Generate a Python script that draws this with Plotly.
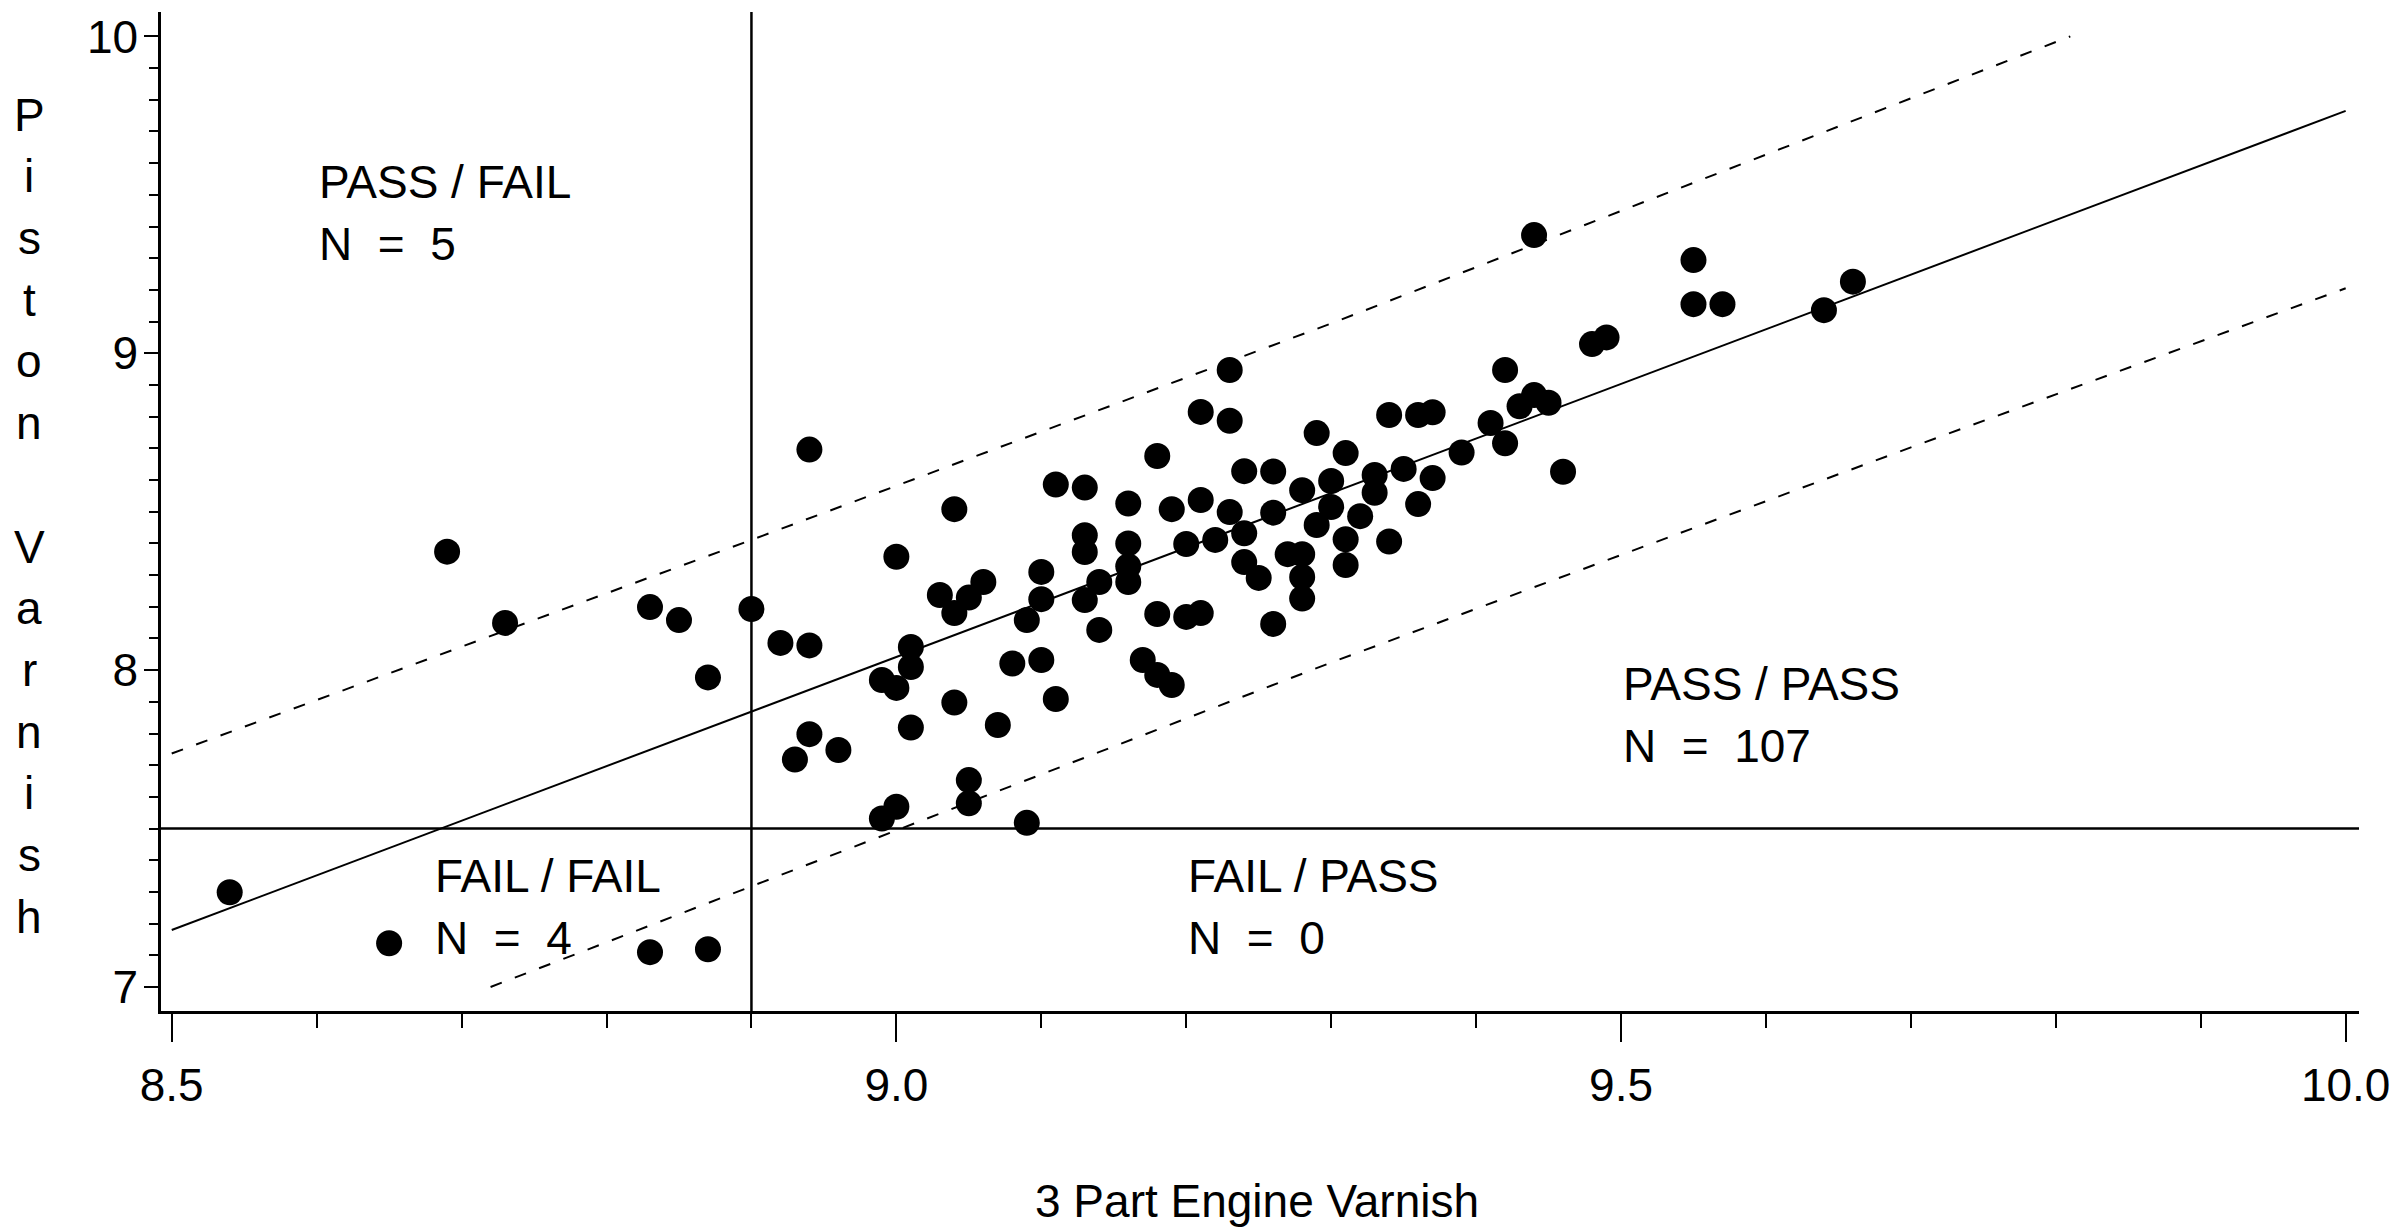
import plotly.graph_objects as go

# ---------------- data ----------------
engine_varnish = [
    8.69, 8.73, 8.83, 8.85, 8.90, 8.87, 8.92, 8.94, 8.94, 8.93, 8.96, 8.54, 8.65, 8.83, 8.87, 8.94,
    9.23, 9.21, 9.23, 9.18, 9.24, 9.11, 9.13, 9.04, 9.16, 9.19, 9.21, 9.23, 9.00, 9.13, 9.13, 9.16,
    9.16, 9.16, 9.14, 9.13, 9.10, 9.10, 9.09, 9.06, 9.05, 9.03, 9.04, 9.14, 9.18, 9.20, 9.21, 9.20,
    9.22, 9.24, 9.24, 9.25, 9.01, 9.01, 8.99, 9.00, 9.08, 9.10, 9.17, 9.18, 9.19, 9.04, 9.11, 9.01,
    9.07,
    9.48, 9.49, 9.42, 9.34, 9.36, 9.37, 9.29, 9.31, 9.26, 9.28, 9.35, 9.37, 9.33, 9.33, 9.30, 9.30,
    9.26, 9.29, 9.32, 9.36, 9.39, 9.41, 9.42, 9.43, 9.44, 9.45, 9.46, 9.34, 9.31, 9.31, 9.27, 9.28,
    9.28, 9.28, 9.26,
    9.44, 9.55, 9.55, 9.57, 9.66, 9.64,
    9.05, 9.05, 9.00, 8.99, 9.09,
]
piston_varnish = [
    8.374, 8.149, 8.199, 8.158, 8.193, 7.977, 8.086, 8.078, 7.798, 7.718, 7.748, 7.299, 7.138, 7.110, 7.119, 8.696,
    8.947, 8.815, 8.787, 8.676, 8.628, 8.586, 8.576, 8.508, 8.526, 8.508, 8.537, 8.499, 8.358, 8.426, 8.373, 8.400,
    8.328, 8.278, 8.278, 8.221, 8.310, 8.224, 8.158, 8.278, 8.229, 8.237, 8.180, 8.127, 8.177, 8.168, 8.180, 8.398,
    8.411, 8.432, 8.341, 8.291, 8.073, 8.010, 7.969, 7.944, 8.021, 8.032, 8.032, 7.985, 7.953, 7.898, 7.909, 7.819,
    7.827,
    9.029, 9.050, 8.947, 8.805, 8.805, 8.814, 8.748, 8.685, 8.627, 8.568, 8.635, 8.606, 8.616, 8.560, 8.597, 8.515,
    8.497, 8.458, 8.486, 8.524, 8.687, 8.780, 8.716, 8.833, 8.868, 8.844, 8.626, 8.406, 8.413, 8.332, 8.366, 8.366,
    8.294, 8.226, 8.146,
    9.373, 9.294, 9.155, 9.155, 9.226, 9.136,
    7.653, 7.580, 7.569, 7.532, 7.518,
]

fit_x = [8.5, 10.0]
fit_y = [7.180, 9.765]
upper_x = [8.5, 8.9, 9.3, 9.6, 9.81]
upper_y = [7.737, 8.411, 9.094, 9.626, 10.0]
lower_x = [8.72, 9.0, 9.3, 9.7, 10.0]
lower_y = [7.0, 7.495, 8.024, 8.703, 9.205]

engine_limit = 8.9
piston_limit = 7.5

quadrant_names = ["PASS / FAIL", "FAIL / FAIL", "FAIL / PASS", "PASS / PASS"]
quadrant_counts = [5, 4, 0, 107]

x_tick_labels = ["8.5", "9.0", "9.5", "10.0"]
y_tick_labels = ["7", "8", "9", "10"]

x_title = "3 Part Engine Varnish"
y_title = "Piston Varnish"

# ---------------- styling / layout ----------------
W, H = 2390, 1229
L, R, T, B = 161, 31, 12, 218
PW, PH = W - L - R, H - T - B
FONT = "Liberation Sans Narrow, Arial Narrow, Liberation Sans, Arial, sans-serif"
FS = 46
NB = "\u00a0"


def px_to_paper_x(px):
    return (px - L) / PW


def px_to_paper_y(py):
    return (H - B - py) / PH


fig = go.Figure()

# regression line and prediction band
fig.add_trace(go.Scatter(x=fit_x, y=fit_y, mode="lines",
                         line=dict(color="black", width=2), hoverinfo="skip"))
fig.add_trace(go.Scatter(x=upper_x, y=upper_y, mode="lines",
                         line=dict(color="black", width=2, dash="12px,14px"), hoverinfo="skip"))
fig.add_trace(go.Scatter(x=lower_x, y=lower_y, mode="lines",
                         line=dict(color="black", width=2, dash="12px,14px"), hoverinfo="skip"))

# data points
fig.add_trace(go.Scatter(x=engine_varnish, y=piston_varnish, mode="markers",
                         marker=dict(color="black", size=26, symbol="circle", line=dict(width=0)),
                         cliponaxis=False))

# reference lines
fig.add_shape(type="line", xref="x", yref="paper", x0=engine_limit, x1=engine_limit, y0=0, y1=1,
              line=dict(color="black", width=2.5), layer="below")
fig.add_shape(type="line", xref="paper", yref="y", x0=0, x1=1, y0=piston_limit, y1=piston_limit,
              line=dict(color="black", width=2.5), layer="below")

annotations = []
# quadrant labels: (left x in data, first-line centre y in data)
label_pos = [(8.60, 9.540), (8.68, 7.350), (9.20, 7.350), (9.50, 7.956)]
line_gap = 61.5 / 316.9
for name, n, (lx, ly) in zip(quadrant_names, quadrant_counts, label_pos):
    annotations.append(dict(x=lx, y=ly, xref="x", yref="y", xanchor="left", yanchor="middle",
                            text=name, showarrow=False,
                            font=dict(family=FONT, size=FS, color="black")))
    annotations.append(dict(x=lx, y=ly - line_gap, xref="x", yref="y", xanchor="left", yanchor="middle",
                            text="N" + NB + NB + "=" + NB + NB + str(n), showarrow=False,
                            font=dict(family=FONT, size=FS, color="black")))

# vertical stacked y title
for k, ch in enumerate(y_title):
    if ch == " ":
        continue
    cy = 114.6 + 61.7 * k
    annotations.append(dict(x=px_to_paper_x(29), y=px_to_paper_y(cy), xref="paper", yref="paper",
                            xanchor="center", yanchor="middle", text=ch, showarrow=False,
                            font=dict(family=FONT, size=FS, color="black")))

# x title
annotations.append(dict(x=px_to_paper_x(1257), y=px_to_paper_y(1201), xref="paper", yref="paper",
                        xanchor="center", yanchor="middle", text=x_title, showarrow=False,
                        font=dict(family=FONT, size=FS, color="black")))

fig.update_layout(
    width=W, height=H,
    margin=dict(l=L, r=R, t=T, b=B, pad=0),
    paper_bgcolor="white", plot_bgcolor="white",
    showlegend=False,
    annotations=annotations,
    font=dict(family=FONT, size=FS, color="black"),
)

fig.update_xaxes(
    range=[8.4926, 10.0092], autorange=False,
    tickmode="array", tickvals=[8.5, 9.0, 9.5, 10.0], ticktext=x_tick_labels,
    ticks="outside", ticklen=28, tickwidth=2, tickcolor="black",
    ticklabelstandoff=4, ticklabeloverflow="allow",
    tickfont=dict(family=FONT, size=FS, color="black"),
    showline=True, linecolor="black", linewidth=2.5,
    showgrid=False, zeroline=False, automargin=False,
    minor=dict(tickmode="linear", tick0=8.5, dtick=0.1, ticks="outside", ticklen=14,
               tickwidth=2, tickcolor="black", showgrid=False),
)
fig.update_yaxes(
    range=[6.9243, 10.077], autorange=False,
    tickmode="array", tickvals=[7, 8, 9, 10], ticktext=y_tick_labels,
    ticks="outside", ticklen=14, tickwidth=2, tickcolor="black",
    ticklabelstandoff=-3, ticklabeloverflow="allow",
    tickfont=dict(family=FONT, size=FS, color="black"),
    showline=True, linecolor="black", linewidth=2.5,
    showgrid=False, zeroline=False, automargin=False,
    minor=dict(tickmode="linear", tick0=7, dtick=0.1, ticks="outside", ticklen=9,
               tickwidth=2, tickcolor="black", showgrid=False),
)

fig.write_html("out.html")
